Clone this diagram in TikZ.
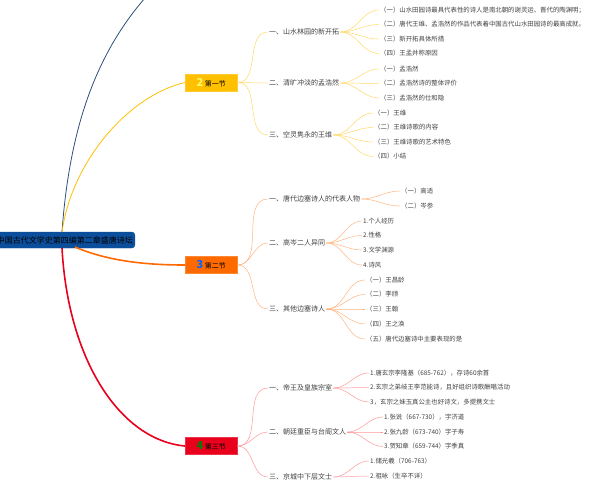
\documentclass[tikz,border=0pt]{standalone}
\usepackage{fontspec}
\setmainfont{Noto Sans CJK SC}
\definecolor{root color}{HTML}{0B4F9C}
\definecolor{sec1 color}{HTML}{FFC000}
\definecolor{sec2 color}{HTML}{FF6A00}
\definecolor{sec3 color}{HTML}{E8001C}
\definecolor{navycol}{HTML}{2E4F7A}
\tikzset{
    x={1pt},
    y={-1pt},
    root/.style={
        fill=root color, draw=root color, rounded corners={3pt},
        font={\fontsize{8}{9}\selectfont}, text=black,
        minimum height={16}, inner xsep=2pt, anchor=east,
    },
    section/.style={
        fill={#1}, draw={#1!80!white},
        font={\fontsize{7}{8}\selectfont},
        minimum width={52}, minimum height={17}, inner sep=1pt,
        anchor=west,
    },
    topic/.style={
        font={\fontsize{7}{8}\selectfont}, text=black!75,
        anchor=west, inner sep=1pt,
    },
    leaf/.style={
        font={\fontsize{6.4}{7}\selectfont}, text=black!75,
        anchor=west, inner sep=1pt,
    },
    branch/.style={
        draw={#1}, line width={0.5pt}, out=0, in=180,
    },
    main branch/.style={
        draw={#1}, line width={1.6pt},
    },
}
\definecolor{leaf1}{HTML}{FFD966}
\definecolor{leaf2}{HTML}{FFB380}
\definecolor{leaf3}{HTML}{FF9999}

\begin{document}
\begin{tikzpicture}
\useasboundingbox (0,0) rectangle (600,480);
% root
\node[root] (root) at (135,240) {中国古代文学史第四编第二章盛唐诗坛};
\coordinate (up) at (145,-2);
\draw[navycol, line width={0.8pt}] (62,232) .. controls (70,120) and (100,50) .. (up);
% sections
\node[section={sec1 color}] (s1) at (185,82.5) {{\fontsize{11}{11}\selectfont\bfseries\color{yellow!60!white}2} 第一节};
\node[section={sec2 color}] (s2) at (185,265) {{\fontsize{11}{11}\selectfont\bfseries\color{blue!60!cyan}3} 第二节};
\node[section={sec3 color}] (s3) at (185,446) {{\fontsize{11}{11}\selectfont\bfseries\color{green!50!black}4} 第三节};
\draw[sec1 color, line width={0.8pt}] (62,232) .. controls (72,160) and (130,95) .. (s1.west);
\draw[main branch={sec2 color}] (75,247) .. controls (110,262) and (150,265) .. (s2.west);
\draw[main branch={sec3 color}] (62,248) .. controls (68,360) and (120,440) .. (s3.west);
% section one
\node[topic] (t11) at (268,32) {一、山水林园的新开拓};
\node[topic] (t12) at (268,83) {二、清旷冲淡的孟浩然};
\node[topic] (t13) at (268,135) {三、空灵隽永的王维};
\foreach \t in {t11,t12,t13} \draw[branch=leaf1] (s1.east) to (\t.west);
\node[leaf] (l111) at (379,10) {（一）山水田园诗最具代表性的诗人是南北朝的谢灵运、晋代的陶渊明；};
\node[leaf] (l112) at (379,24.5) {（二）唐代王维、孟浩然的作品代表着中国古代山水田园诗的最高成就。};
\node[leaf] (l113) at (379,39) {（三）新开拓具体所措};
\node[leaf] (l114) at (379,53.5) {（四）王孟并称原因};
\node[leaf] (l121) at (379,69) {（一）孟浩然};
\node[leaf] (l122) at (379,83.5) {（二）孟浩然诗的整体评价};
\node[leaf] (l123) at (379,98) {（三）孟浩然的仕和隐};
\node[leaf] (l131) at (373,113) {（一）王维};
\node[leaf] (l132) at (373,127.5) {（二）王维诗歌的内容};
\node[leaf] (l133) at (373,142) {（三）王维诗歌的艺术特色};
\node[leaf] (l134) at (373,156.5) {（四）小结};
\foreach \l in {l111,l112,l113,l114} \draw[branch=leaf1] (t11.east) to (\l.west);
\foreach \l in {l121,l122,l123} \draw[branch=leaf1] (t12.east) to (\l.west);
\foreach \l in {l131,l132,l133,l134} \draw[branch=leaf1] (t13.east) to (\l.west);
% section two
\node[topic] (t21) at (268,199) {一、唐代边塞诗人的代表人物};
\node[topic] (t22) at (268,243) {二、高岑二人异同};
\node[topic] (t23) at (268,309) {三、其他边塞诗人};
\foreach \t in {t21,t22,t23} \draw[branch=leaf2] (s2.east) to (\t.west);
\node[leaf] (l211) at (400,191) {（一）高适};
\node[leaf] (l212) at (400,206) {（二）岑参};
\node[leaf] (l221) at (362,221) {1.个人经历};
\node[leaf] (l222) at (362,235.5) {2.性格};
\node[leaf] (l223) at (362,250) {3.文学渊源};
\node[leaf] (l224) at (362,265) {4.诗风};
\node[leaf] (l231) at (365,280) {（一）王昌龄};
\node[leaf] (l232) at (365,294.5) {（二）李颀};
\node[leaf] (l233) at (365,309) {（三）王翰};
\node[leaf] (l234) at (365,324) {（四）王之涣};
\node[leaf] (l235) at (365,339) {（五）唐代边塞诗中主要表现的是};
\foreach \l in {l211,l212} \draw[branch=leaf2] (t21.east) to (\l.west);
\foreach \l in {l221,l222,l223,l224} \draw[branch=leaf2] (t22.east) to (\l.west);
\foreach \l in {l231,l232,l233,l234,l235} \draw[branch=leaf2] (t23.east) to (\l.west);
% section three
\node[topic] (t31) at (268,388) {一、帝王及皇族宗室};
\node[topic] (t32) at (268,432) {二、朝廷重臣与台阁文人};
\node[topic] (t33) at (268,477) {三、京城中下层文士};
\foreach \t in {t31,t32,t33} \draw[branch=leaf3] (s3.east) to (\t.west);
\node[leaf] (l311) at (369,373) {1.唐玄宗李隆基（685-762），存诗60余首};
\node[leaf] (l312) at (369,387.5) {2.玄宗之弟岐王李范能诗，且好组织诗歌酬唱活动};
\node[leaf] (l313) at (369,402) {3，玄宗之妹玉真公主也好诗文，多提携文士};
\node[leaf] (l321) at (383,417) {1.张说（667-730），字济道};
\node[leaf] (l322) at (383,432) {2.张九龄（673-740）字子寿};
\node[leaf] (l323) at (383,446.5) {3.贺知章（659-744）字季真};
\node[leaf] (l331) at (369,461) {1.储光羲（706-763）};
\node[leaf] (l332) at (369,476) {2.祖咏（生卒不详）};
\foreach \l in {l311,l312,l313} \draw[branch=leaf3] (t31.east) to (\l.west);
\foreach \l in {l321,l322,l323} \draw[branch=leaf3] (t32.east) to (\l.west);
\foreach \l in {l331,l332} \draw[branch=leaf3] (t33.east) to (\l.west);
\end{tikzpicture}
\end{document}
